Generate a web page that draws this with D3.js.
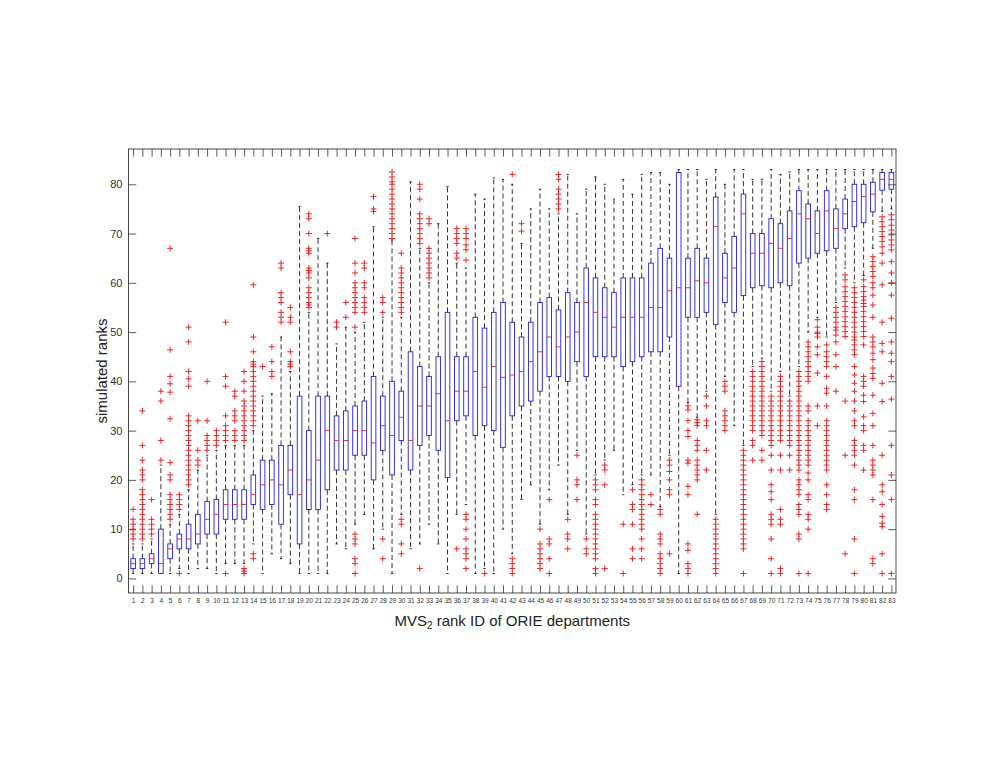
<!DOCTYPE html>
<html>
<head>
<meta charset="utf-8">
<script src="https://cdn.jsdelivr.net/npm/d3@7"></script>
<style>
  body { margin: 0; background: #fff; }
  text { font-family: "Liberation Sans", Arial, Helvetica, sans-serif; }
</style>
</head>
<body>
<div id="chart"></div>
<script>
// box statistics per department
var ids = d3.range(1, 84);

var whiskLow = [1,1,1,1,1,2,1,2,2,1, 3,3,3,7,1,5,4,3,1,1, 1,1,7,6,11,13,6,10,1,13,
    6,7,11,7,1,13,15,1,2,1, 10,5,16,19,11,18,23,13,26,9, 21,24,26,17,19,21,21,14.6,25,1,
    35.7,32.7,38,13,41,31,27,43,44.7,38, 42,37,43,50,53,49,56,63,60,61.5, 67,74.5,75];
var q1 = [2,2,3,1,4,6,6,7,9,9, 12,12,12,15,14,15,11,17,7,14, 14,18,22,22,25,25,20,26,21,28,
    22,27,29,26,20.5,32,33,29,31,30, 26.6,33,35,36,38,41,41,40,44,41, 45,45,45,43,44,45,46,46,49,39,
    53,53,54,51.5,56,54,57.4,59,59.4,59, 60,59.4,64,65,66,66.5,67,71,71.4,72.2, 74.4,78.8,79];
var median = [3,3,4,3,6,8,8,9,12,13, 15,15,15,17,19,20,19,22,17,20, 24,30,28,28,30,30,27.5,31,29,32.7,
    28,35,35,37.5,32,38,38,42,38.8,43, 40.8,41.3,42,44,46,49,47,49,50,56, 54,53,51,53,53,53,55,55,58.4,59,
    59,60.4,60,71.4,61,63,74,66,66,68, 67,69,74,73,70,74.6,71,74,76.5,77.5, 78,81,81];
var q3 = [4,4,5,10,7,9,11,13,15.6,16, 18,18,18,21,24,24,27,27,37,30, 37,37,33,34,35,36,41,37,40,38,
    46,43,41,45,54,45,45,53,50.8,54, 56,52,49,52,56,57,54.5,58,56,63, 61,59,58,61,61,61,64,67,65,82.4,
    65,67,65,77.4,66,69.4,78,70,70,73, 72,74.6,78.7,76,74.6,78.7,75,77,80,80, 80.4,82.4,82.4];
var whiskHigh = [7,7,8,23,11,13,18,22,25,26, 27,27,27,30,37,37.5,49,42,75.5,54, 69,64,47.6,51,50,52,71.4,53,68.7,53,
    80.5,67,60,72,79.5,64,63,78,77,81.3, 81,80,68,75,79,75,74,82,74,79, 81.5,80,77,81,78,82,82.4,82.4,80,83,
    83,83,81,83,80,83,83,81,81,83, 82,82.5,83,83,83,83,83,83,83,83, 83,83,83];

var outliers = [
    [8,9,10,11,12,14],
    [8,9,10,11,12,13,14,15,16,17,18,20,21,22,24,27,34],
    [9,10,11,12,16],
    [24,28,36,38],
    [12,13,14,15,16,17,20,21,23.5,32.4,37.8,39.5,41,46.4,67],
    [1,14,15,16,17],
    [19,20,21,22,23,24,25,26,27,28,29,30,31,32,33,39,40.5,42,48,51],
    [23,24,26,32],
    [26,27,28,29,32,40],
    [27,28,29,30],
    [1,28,29,30,31,33,39,41,52],
    [28,29,30,32,33,34,37,38],
    [1,1.5,2,28,29,30,31,32,33,34,35,36,38,40,42],
    [4,5,31,32,33,34,35,36,37,38,39,40,41,42,43,43.5,44,46,49,59.6],
    [43],
    [41,42,44,47],
    [52,53,54,56,57,58,63,64],
    [43,43.5,44,46,52,53,55],
    [],
    [55,55.5,56,57,58,59,61,62,62.5,63,66,66.5,67,70,73,74],
    [],
    [70],
    [51,52],
    [53,56],
    [1,3,4,7,8,9,51,54,55,56,57,58,59,60,62,64,69],
    [54,55,56,57,59,60,63,64],
    [74.5,75,77.5],
    [4,8,54,56,57],
    [69,70,71,72,73,74,75,76,77,78,79,80,80.5,81.5,82.5],
    [5,7,11,12,54,55,56,57,58,59,60,61,62,63,66],
    [],
    [2,68,69,70,71,72,73,74,77,79,80],
    [61,62,63,64,65,66,67,72,73],
    [],
    [],
    [6,65,66,68,69,70,71],
    [2,4,5,6,8,10,12,13,64.6,66.7,67.7,69,70,71],
    [],
    [1],
    [],
    [],
    [1,2,3,4,82],
    [70.5,72],
    [],
    [2,3,4,5,6,7,10],
    [1,4,7,8,16],
    [75,76,77,78,79,81,82],
    [6,8,9,12],
    [16,19,20,25],
    [5,6,8],
    [1,2,4,5,6,7,8,9,10,11,12,13,15,16,18,19,20],
    [2,19,22,23],
    [],
    [1,11],
    [4,6,11,14,15,18],
    [4,6,8,10,11,12,13,14,15,16,17,18,19,20],
    [15,17],
    [1,2,3,4,5,7,8,9,13,14],
    [5,17,18,20,21.7,23,24],
    [],
    [1,2,3,5.7,7,17,18.7,23.4,24,28.8,30,32,34.2,35],
    [13,20,21,22,23,24,26,27,28,31,31.6,32.2],
    [22,26,31,32,35,37],
    [1,2,3,4,5,6,7,8,9,10,11,12],
    [30,31,32,33,34,38,39,40],
    [],
    [1,6,7,8,9,10,11,12,13,14,15,16,17,18,19,20,21,22,23,24,25,26],
    [24,27,28,30,31,32,33,34,35,36,37,38,39,40,41,42],
    [24,26,29,30,31,32,33,34,35,36,37,38,39,40,41,42,43,44],
    [1,4,8,11,12,13,16,17.6,19,22,25,27,28,29,30,31,32,33,34,35,36,37],
    [1,2,11,12,14,22,25,28,29,30,31,32,33,34,35,36,37,38,39,40,41],
    [22,25,27,28,29,30,31,32,33,34,35,36],
    [1,8,9,13,14,15,17,18,19,20,22,23,24,25,26,27,28,29,30,31,32,33,34,35,36,37,38,39,40,41,42],
    [1,10,12,13,16,17,20,21.4,23,24,25,26,27,28,29,30,31,32,34,35,40,41,42,43,44,45,46,47,48],
    [31,35,41.7,45.4,47,49,49.7,50,51,52.5],
    [14,15,17,19,22,23,24,25,26,27,28,29,30,31,32,35,37.6,38.6,41,43,44,45,46,47.4],
    [38,43,45.4,48,49.4,50.4,51,52,53,54,55],
    [5,25,36,49.1,50.1,51.1,52.1,53.1,54.2,55.2,56.2,57.2,58.2,59.2,60.6,61.6],
    [1,8,16,18,23,25,26,27,28,31,32,34,36,38,39.6,41.3,43,45.4,46.4,47.4,48.4,49,50,51,52,53,54,55,56,57,58,59],
    [22,26,27,30,31,32.8,35.9,37.2,39,40,41,47.4,49.1,50.1,51.1,52.1,53.1,54.2,55.2,55.8,56.5,57.2,58.2,59.2,60.6],
    [3,4,16,21,22,23,24,27,31,33.5,37.2,40.6,41.6,42.7,44.4,45.7,47,48,49,53,55.5,57.5,59,60,61.3,62.3,63.3,64.3,65.3],
    [1,5,10.5,11.2,12.6,15,17.6,19,25,35.9,39.6,46,47.7,52,59.6,64,66,67.3,68.4,69.4,70.4,71.4,72.4,73.4],
    [1,16,21,27,36.4,41,44,45.7,48,52.8,57.5,60,62,64.3,66.7,67.7,68.7,69.7,70.7,71.7,72.8,73.8]
];

var yTicks = [0, 10, 20, 30, 40, 50, 60, 70, 80];

var boxes = ids.map((id, i) => ({
    id: id, lo: whiskLow[i], q1: q1[i], med: median[i], q3: q3[i], hi: whiskHigh[i], out: outliers[i]
}));

var margin = { top: 149, right: 94, bottom: 172, left: 128.5 },
    width = 990 - margin.left - margin.right,
    height = 765 - margin.top - margin.bottom;

var svg = d3.select("#chart").append("svg")
    .attr("width", 990)
    .attr("height", 765)
    .append("g")
    .attr("transform", "translate(" + margin.left + "," + margin.top + ")");

var x = d3.scaleLinear().domain([0.5, 83.5]).range([0, width]);
var y = d3.scaleLinear().domain([-2.96, 87.16]).range([height, 0]);

var boxW = x(1.25) - x(1);     // half box width
var capW = boxW / 2;
var tickLen = 7.7;

// whiskers (dashed)
var g = svg.selectAll(".box").data(boxes).enter().append("g").attr("class", "box");

g.append("line")
    .attr("x1", d => x(d.id)).attr("x2", d => x(d.id))
    .attr("y1", d => y(d.q3)).attr("y2", d => y(d.hi))
    .attr("stroke", "#000").attr("stroke-width", 0.8).attr("stroke-dasharray", "5,3");
g.append("line")
    .attr("x1", d => x(d.id)).attr("x2", d => x(d.id))
    .attr("y1", d => y(d.q1)).attr("y2", d => y(d.lo))
    .attr("stroke", "#000").attr("stroke-width", 0.8).attr("stroke-dasharray", "5,3");

// whisker caps
g.append("line")
    .attr("x1", d => x(d.id) - capW).attr("x2", d => x(d.id) + capW)
    .attr("y1", d => y(d.hi)).attr("y2", d => y(d.hi))
    .attr("stroke", "#000").attr("stroke-width", 0.8);
g.append("line")
    .attr("x1", d => x(d.id) - capW).attr("x2", d => x(d.id) + capW)
    .attr("y1", d => y(d.lo)).attr("y2", d => y(d.lo))
    .attr("stroke", "#000").attr("stroke-width", 0.8);

// boxes
g.append("rect")
    .attr("x", d => x(d.id) - boxW)
    .attr("y", d => y(d.q3))
    .attr("width", boxW * 2)
    .attr("height", d => y(d.q1) - y(d.q3))
    .attr("fill", "none")
    .attr("stroke", "#2020e0")
    .attr("stroke-width", 0.9);

// medians
g.append("line")
    .attr("x1", d => x(d.id) - boxW).attr("x2", d => x(d.id) + boxW)
    .attr("y1", d => y(d.med)).attr("y2", d => y(d.med))
    .attr("stroke", "#e02020").attr("stroke-width", 0.9);

// outliers as red plus signs
var pts = [];
boxes.forEach(b => b.out.forEach(v => pts.push({ id: b.id, v: v })));
svg.selectAll(".out").data(pts).enter().append("path")
    .attr("class", "out")
    .attr("d", d => {
        var cx = x(d.id), cy = y(d.v), r = 3;
        return "M" + (cx - r) + "," + cy + "H" + (cx + r) + "M" + cx + "," + (cy - r) + "V" + (cy + r);
    })
    .attr("stroke", "#f01010")
    .attr("stroke-width", 0.9)
    .attr("fill", "none");

// axes with inward ticks on all four sides
var xb = svg.append("g")
    .attr("transform", "translate(0," + height + ")")
    .call(d3.axisBottom(x).tickValues(ids).tickSize(-tickLen).tickPadding(5).tickFormat(d3.format("d")));
xb.selectAll("text").style("font-size", "6.5px").attr("fill", "#333");

svg.append("g")
    .call(d3.axisTop(x).tickValues(ids).tickSize(-tickLen).tickFormat(""));

var yl = svg.append("g")
    .call(d3.axisLeft(y).tickValues(yTicks).tickSize(-tickLen).tickPadding(6));
yl.selectAll("text").style("font-size", "11px").attr("fill", "#333");

svg.append("g")
    .attr("transform", "translate(" + width + ",0)")
    .call(d3.axisRight(y).tickValues(yTicks).tickSize(-tickLen).tickFormat(""));

svg.selectAll(".domain").remove();
svg.selectAll(".tick line").attr("stroke", "#333").attr("stroke-width", 0.8);

// frame
svg.append("rect")
    .attr("width", width).attr("height", height)
    .attr("fill", "none").attr("stroke", "#333").attr("stroke-width", 0.9);

// y axis label
svg.append("text")
    .attr("transform", "translate(-22," + (height / 2) + ") rotate(-90)")
    .attr("text-anchor", "middle")
    .style("font-size", "15px")
    .attr("fill", "#222")
    .text("simulated ranks");

// x axis label
var xl = svg.append("text")
    .attr("x", width / 2)
    .attr("y", height + 33)
    .attr("text-anchor", "middle")
    .style("font-size", "15px")
    .attr("fill", "#222");
xl.append("tspan").text("MVS");
xl.append("tspan").attr("dy", 3).style("font-size", "10px").text("2");
xl.append("tspan").attr("dy", -3).text(" rank ID of ORIE departments");
</script>
</body>
</html>
